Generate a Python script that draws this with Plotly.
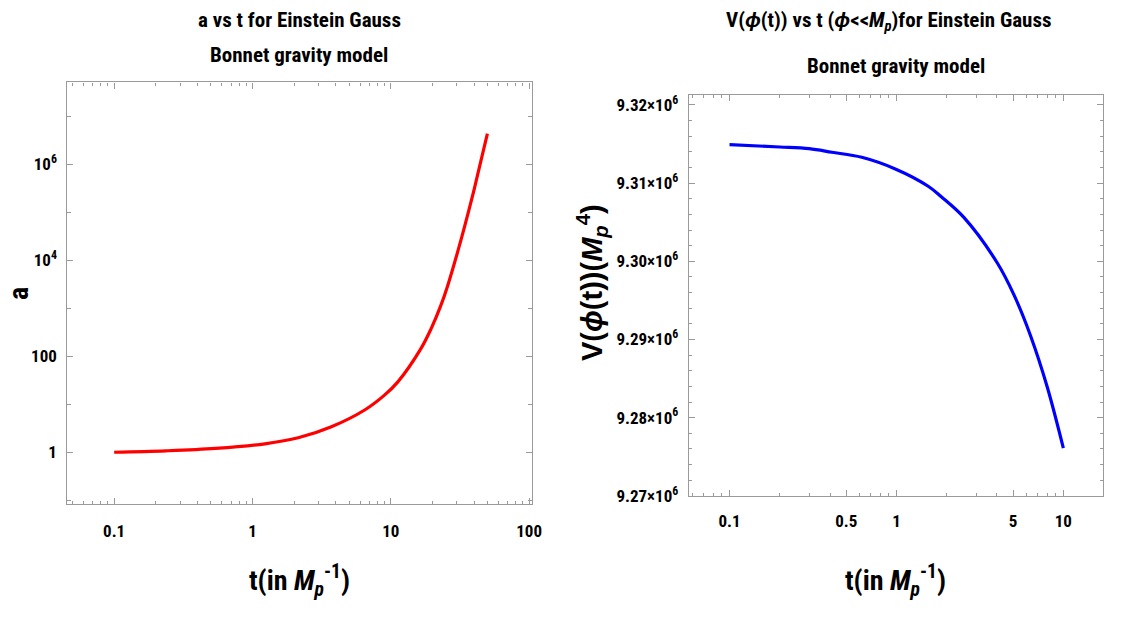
import plotly.graph_objects as go

# Scale factor a(t) for the Einstein-Gauss-Bonnet model (log-log panel)
t_a = [0.1, 0.236, 0.54, 1.23, 2.14, 3.72, 6.47, 9.0, 11.2, 16.5, 19.5, 23.0, 25.7,
       30.3, 33.9, 40.0, 42.3, 49.9]
a_vals = [1.0, 1.07, 1.2, 1.5, 2.0, 3.4, 7.6, 15.5, 29, 145, 370, 1150, 2900,
          14500, 4.7e4, 3.0e5, 5.9e5, 4.4e6]

# Potential V(phi(t)) for phi << M_p
t_v = [0.1, 0.2, 0.3, 0.41, 0.62, 1.0, 1.55, 1.85, 2.55, 4.03, 5.06, 6.36, 8.0, 10.0]
v_vals = [9.31492e6, 9.31462e6, 9.31440e6, 9.31395e6, 9.31330e6, 9.31175e6, 9.30960e6,
          9.30828e6, 9.30555e6, 9.29975e6, 9.29570e6, 9.29048e6, 9.28395e6, 9.27610e6]

# Axis ticks
a_x_ticks = [0.1, 1, 10, 100]
a_x_labels = ["0.1", "1", "10", "100"]
a_y_ticks = [1, 100, 1e4, 1e6]
a_y_labels = ["1", "100", "10<sup>4</sup>", "10<sup>6</sup>"]
v_x_ticks = [0.1, 0.5, 1, 5, 10]
v_x_labels = ["0.1", "0.5", "1", "5", "10"]
v_y_ticks = [9.27e6, 9.28e6, 9.29e6, 9.30e6, 9.31e6, 9.32e6]
v_y_labels = ["9.27×10<sup>6</sup>", "9.28×10<sup>6</sup>", "9.29×10<sup>6</sup>",
              "9.30×10<sup>6</sup>", "9.31×10<sup>6</sup>", "9.32×10<sup>6</sup>"]

W, H = 1121, 619
NARROW = "Liberation Sans Narrow, Arial Narrow, Roboto Condensed, Roboto, sans-serif"
WIDE = "Liberation Sans, Arial, sans-serif"
FRAME = "#9a9a9a"


def log_minor(lo_exp, hi_exp, skip=()):
    vals = []
    for e in range(lo_exp, hi_exp + 1):
        for m in range(2, 10):
            v = round(m * 10 ** e, 6)
            if v not in skip:
                vals.append(v)
    return vals


fig = go.Figure()
fig.add_trace(go.Scatter(x=t_a, y=a_vals, mode="lines", line=dict(color="#ff0000", width=3.2),
                         line_shape="spline", xaxis="x", yaxis="y", showlegend=False))
fig.add_trace(go.Scatter(x=t_v, y=v_vals, mode="lines", line=dict(color="#0000ff", width=3.2),
                         line_shape="spline", xaxis="x2", yaxis="y2", showlegend=False))

axis_common = dict(showline=True, linecolor=FRAME, linewidth=1.2, mirror="ticks",
                   ticks="inside", tickcolor=FRAME, ticklen=6, tickwidth=1,
                   showgrid=False, zeroline=False, ticklabelstandoff=6,
                   tickfont=dict(family=NARROW, size=17, color="black", weight="bold"))

fig.update_layout(
    width=W, height=H,
    margin=dict(l=0, r=0, t=0, b=0),
    paper_bgcolor="white", plot_bgcolor="white",
    xaxis=dict(axis_common, type="log", domain=[68 / W, 537 / W],
               range=[-1.338, 2.022], tickmode="array", tickvals=a_x_ticks,
               ticktext=a_x_labels, anchor="y", ticklabelstandoff=11,
               minor=dict(tickmode="array", tickvals=log_minor(-2, 2), ticks="inside",
                          ticklen=3, tickcolor=FRAME)),
    yaxis=dict(axis_common, type="log", domain=[1 - 512 / H, 1 - 82 / H],
               range=[-1.08, 7.71], tickmode="array", tickvals=a_y_ticks,
               ticktext=a_y_labels, anchor="x",
               minor=dict(tickmode="array", tickvals=[0.1, 10, 1000, 1e5, 1e7],
                          ticks="inside", ticklen=4, tickcolor=FRAME)),
    xaxis2=dict(axis_common, type="log", domain=[695 / W, 1113 / W],
                range=[-1.244, 1.238], tickmode="array", tickvals=v_x_ticks,
                ticktext=v_x_labels, anchor="y2", ticklabelstandoff=9,
                minor=dict(tickmode="array", tickvals=log_minor(-2, 1, skip=(0.5, 5)),
                           ticks="inside", ticklen=3, tickcolor=FRAME)),
    yaxis2=dict(axis_common, domain=[1 - 504 / H, 1 - 95 / H],
                range=[9.26995e6, 9.32125e6], tickmode="array", tickvals=v_y_ticks,
                ticktext=v_y_labels, anchor="x2",
                minor=dict(dtick=2000, tick0=9.27e6, ticks="inside", ticklen=3,
                           tickcolor=FRAME)),
)


def note(text, x, y, size, family=NARROW, angle=0):
    fig.add_annotation(text=text, x=x / W, y=1 - y / H, xref="paper", yref="paper",
                       showarrow=False, textangle=angle, xanchor="center", yanchor="middle",
                       font=dict(family=family, size=size, color="black"))


# Panel titles
note("<b>a vs t for Einstein Gauss</b>", 302, 18, 21)
note("<b>Bonnet gravity model</b>", 302, 54, 21)
note("<b>V(<i>ϕ</i>(t)) vs t (<i>ϕ</i>&lt;&lt;<i>M<sub>p</sub></i>)for Einstein Gauss</b>", 897, 20, 21)
note("<b>Bonnet gravity model</b>", 904, 65, 21)

# Axis titles
note("<b>t(in <i>M<sub>p</sub></i><sup>-1</sup>)</b>", 302, 590, 28)
note("<b>t(in <i>M<sub>p</sub></i><sup>-1</sup>)</b>", 904, 590, 28)
note("<b>a</b>", 18, 297, 28, angle=-90)
note("<b>V(<i>ϕ</i>(t))(<i>M<sub>p</sub></i><sup>4</sup>)</b>", 598, 286, 29, family=WIDE, angle=-90)

fig.write_html("out.html")
